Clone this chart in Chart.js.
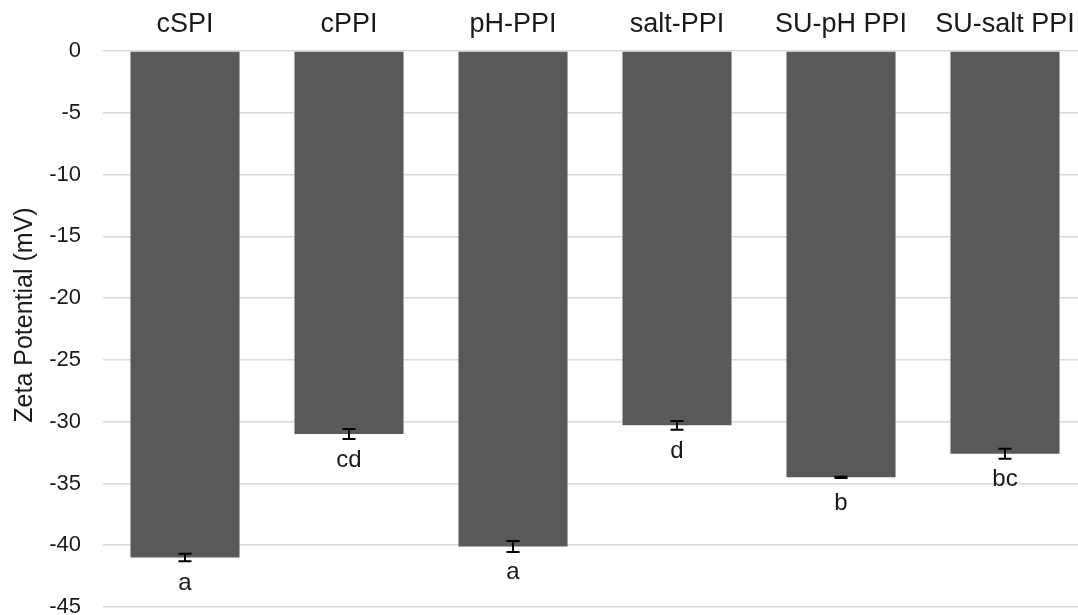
<!DOCTYPE html>
<html>
<head>
<meta charset="utf-8">
<script src="https://cdn.jsdelivr.net/npm/chart.js@4/dist/chart.umd.min.js"></script>
<style>
html,body{margin:0;padding:0;background:#fff;overflow:hidden;}
#wrap{width:1087px;height:615px;}
</style>
</head>
<body>
<div id="wrap"><canvas id="c" width="1087" height="615"></canvas></div>
<script>
const categories = ['cSPI', 'cPPI', 'pH-PPI', 'salt-PPI', 'SU-pH PPI', 'SU-salt PPI'];
const zeta = [-41.0, -31.0, -40.1, -30.3, -34.5, -32.6];
const errors = [0.3, 0.4, 0.45, 0.35, 0.05, 0.4];
const letters = ['a', 'cd', 'a', 'd', 'b', 'bc'];
const yTitle = 'Zeta Potential (mV)';
const yMin = -45, yMax = 0, yStep = 5;

const FONT = '"Liberation Sans", Arial, sans-serif';
const TXT = '#1a1a1a';

const errorBarPlugin = {
  id: 'errorBars',
  afterDatasetsDraw(chart) {
    const ctx = chart.ctx;
    const meta = chart.getDatasetMeta(0);
    const y = chart.scales.y;
    ctx.save();
    meta.data.forEach((bar, i) => {
      const v = zeta[i], e = errors[i];
      const x = bar.x;
      const y1 = y.getPixelForValue(v - e);
      const y2 = y.getPixelForValue(v + e);
      ctx.strokeStyle = '#000';
      ctx.lineWidth = 2;
      ctx.beginPath();
      ctx.moveTo(x, y1); ctx.lineTo(x, y2);
      ctx.moveTo(x - 6.5, y1); ctx.lineTo(x + 6.5, y1);
      ctx.moveTo(x - 6.5, y2); ctx.lineTo(x + 6.5, y2);
      ctx.stroke();
      ctx.fillStyle = TXT;
      ctx.font = '24px ' + FONT;
      ctx.textAlign = 'center';
      ctx.textBaseline = 'middle';
      ctx.fillText(letters[i], x, y.getPixelForValue(v) + 26);
    });
    // y axis title
    ctx.save();
    ctx.translate(25, 315);
    ctx.rotate(-Math.PI / 2);
    ctx.font = '25px ' + FONT;
    ctx.fillStyle = TXT;
    ctx.textAlign = 'center';
    ctx.textBaseline = 'middle';
    ctx.fillText(yTitle, 0, 0);
    ctx.restore();
    ctx.restore();
  }
};

new Chart(document.getElementById('c'), {
  type: 'bar',
  data: {
    labels: categories,
    datasets: [{
      data: zeta,
      backgroundColor: '#595959',
      borderWidth: 0,
      barPercentage: 0.665,
      categoryPercentage: 1.0
    }]
  },
  options: {
    responsive: false,
    devicePixelRatio: 1,
    animation: false,
    layout: { padding: { left: 0, right: 0, top: 0, bottom: 8 } },
    plugins: { legend: { display: false }, tooltip: { enabled: false } },
    scales: {
      x: {
        position: 'top',
        grid: { display: false, drawTicks: false },
        border: { display: false },
        ticks: { color: TXT, font: { family: FONT, size: 27 }, padding: 10, maxRotation: 0, autoSkip: false },
        afterFit(scale) { scale.height = 51; scale.paddingLeft = 0; scale.paddingRight = 0; }
      },
      y: {
        min: yMin, max: yMax,
        grid: { color: '#d9d9d9', lineWidth: 1.5, drawTicks: false },
        border: { display: false },
        ticks: { stepSize: yStep, color: TXT, font: { family: FONT, size: 22 }, padding: 22 },
        afterFit(scale) { scale.width = 103; scale.paddingTop = 0; scale.paddingBottom = 0; }
      }
    }
  },
  plugins: [errorBarPlugin]
});
</script>
</body>
</html>
